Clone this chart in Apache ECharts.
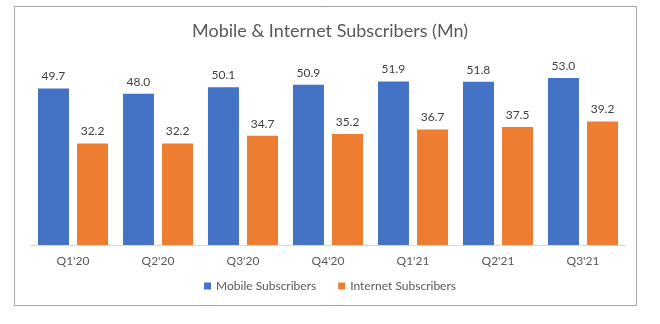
<!DOCTYPE html>
<html>
<head>
<meta charset="utf-8">
<script src="https://cdn.jsdelivr.net/npm/echarts@6/dist/echarts.min.js"></script>
<style>
  html, body { margin: 0; padding: 0; background: #fff; }
  #chart { width: 660px; height: 324px; }
</style>
</head>
<body>
<div id="chart"></div>
<script>
// Quarterly subscriber counts, in millions
const quarters = ["Q1'20", "Q2'20", "Q3'20", "Q4'20", "Q1'21", "Q2'21", "Q3'21"];
const mobileSubscribers = [49.7, 48.0, 50.1, 50.9, 51.9, 51.8, 53.0];
const internetSubscribers = [32.2, 32.2, 34.7, 35.2, 36.7, 37.5, 39.2];

const FONT = "Lato, 'Liberation Sans', sans-serif";

const chart = echarts.init(document.getElementById('chart'), null, { renderer: 'canvas' });

const valueLabel = {
  show: true,
  position: 'top',
  distance: 6,
  fontFamily: FONT,
  fontSize: 12,
  color: '#404040',
  formatter: p => p.value.toFixed(1)
};

chart.setOption({
  animation: false,
  backgroundColor: '#ffffff',
  graphic: [{
    type: 'rect',
    shape: { x: 14.5, y: 6.5, width: 622, height: 299 },
    style: { fill: 'none', stroke: '#a6a6a6', lineWidth: 1 },
    silent: true,
    z: -1
  }],
  title: {
    text: 'Mobile & Internet Subscribers (Mn)',
    left: 'center',
    top: 17,
    textStyle: { fontFamily: FONT, fontSize: 18, fontWeight: 'normal', color: '#595959' }
  },
  legend: {
    bottom: 27,
    left: 'center',
    itemWidth: 7,
    itemHeight: 7,
    itemGap: 22,
    icon: 'rect',
    textStyle: { fontFamily: FONT, fontSize: 12, color: '#595959' },
    data: ['Mobile Subscribers', 'Internet Subscribers']
  },
  grid: { left: 30.5, right: 34.5, top: 56, bottom: 79, containLabel: false },
  xAxis: {
    type: 'category',
    data: quarters,
    axisLine: { lineStyle: { color: '#d9d9d9', width: 1 } },
    axisTick: { show: false },
    axisLabel: { fontFamily: FONT, fontSize: 12, color: '#595959', margin: 10 }
  },
  yAxis: {
    type: 'value',
    min: 0,
    max: 60,
    show: false,
    splitLine: { show: false }
  },
  series: [
    {
      name: 'Mobile Subscribers',
      type: 'bar',
      data: mobileSubscribers,
      barWidth: 31,
      barGap: '26%',
      itemStyle: { color: '#4472c4' },
      label: valueLabel
    },
    {
      name: 'Internet Subscribers',
      type: 'bar',
      data: internetSubscribers,
      barWidth: 31,
      barGap: '26%',
      itemStyle: { color: '#ed7d31' },
      label: valueLabel
    }
  ]
});
</script>
</body>
</html>
